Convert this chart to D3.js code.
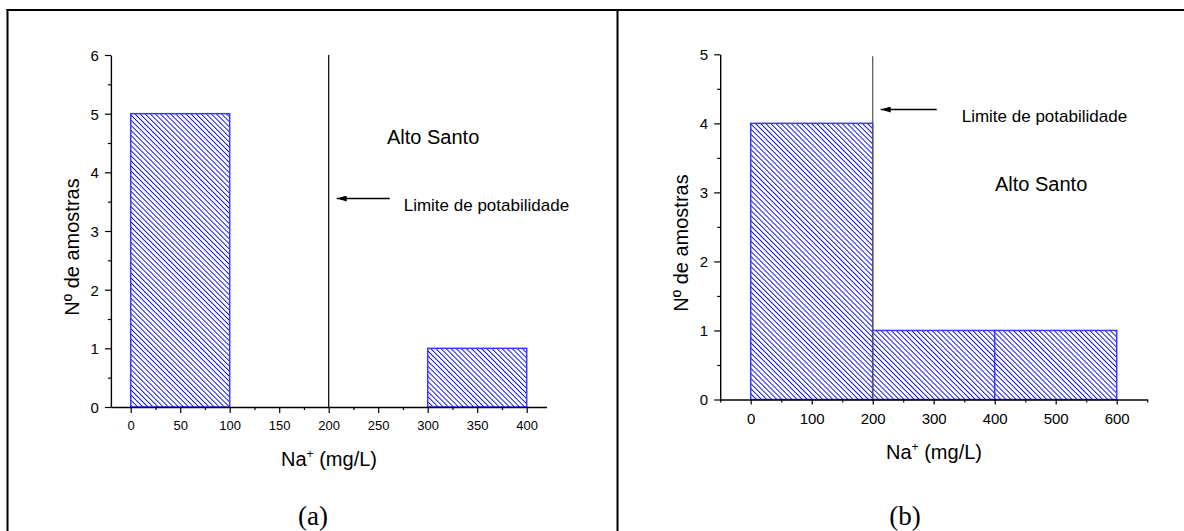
<!DOCTYPE html>
<html>
<head>
<meta charset="utf-8">
<script src="https://cdn.jsdelivr.net/npm/d3@7"></script>
<style>
  html, body { margin: 0; padding: 0; background: #fff; }
  svg { display: block; }
  text { font-family: "Liberation Sans", Arial, sans-serif; fill: #000; }
</style>
</head>
<body>
<svg id="chart" width="1184" height="531"></svg>
<script>
// ---------- data ----------
const binEdgesA = [0, 100, 200, 300, 400];
const countsA = [5, 0, 0, 1];
const xTicksA = [0, 50, 100, 150, 200, 250, 300, 350, 400];
const xMinorA = [25, 75, 125, 175, 225, 275, 325, 375];
const yTicksA = [0, 1, 2, 3, 4, 5, 6];
const yMinorA = [0.5, 1.5, 2.5, 3.5, 4.5, 5.5];

const binEdgesB = [0, 200, 400, 600];
const countsB = [4, 1, 1];
const xTicksB = [0, 100, 200, 300, 400, 500, 600];
const xMinorB = [-50, 50, 150, 250, 350, 450, 550, 650];
const yTicksB = [0, 1, 2, 3, 4, 5];
const yMinorB = [0.5, 1.5, 2.5, 3.5, 4.5];

const limitValue = 200;
const siteName = "Alto Santo";
const limitLabel = "Limite de potabilidade";
const panelLabels = ["(a)", "(b)"];

// ---------- svg ----------
const svg = d3.select("#chart");
const defs = svg.append("defs");
const pat = defs.append("pattern")
  .attr("id", "hatch")
  .attr("patternUnits", "userSpaceOnUse")
  .attr("width", 3.6).attr("height", 3.6)
  .attr("patternTransform", "rotate(-45)");
pat.append("rect").attr("width", 3.6).attr("height", 3.6).attr("fill", "#fff");
pat.append("line").attr("x1", 0.5).attr("y1", 0).attr("x2", 0.5).attr("y2", 3.6)
  .attr("stroke", "#0000ee").attr("stroke-width", 0.9);

defs.append("marker")
  .attr("id", "arrow")
  .attr("viewBox", "0 0 10 6")
  .attr("refX", 0).attr("refY", 3)
  .attr("markerWidth", 10).attr("markerHeight", 6)
  .attr("markerUnits", "userSpaceOnUse")
  .attr("orient", "auto")
  .append("path").attr("d", "M0,3 L10,0 L10,6 Z").attr("fill", "#000");

// frame
svg.append("line").attr("x1", 6.5).attr("x2", 1184).attr("y1", 10).attr("y2", 10)
  .attr("stroke", "#000").attr("stroke-width", 2);
svg.append("line").attr("x1", 7.5).attr("x2", 7.5).attr("y1", 9).attr("y2", 531)
  .attr("stroke", "#000").attr("stroke-width", 2);
svg.append("line").attr("x1", 617.5).attr("x2", 617.5).attr("y1", 9).attr("y2", 531)
  .attr("stroke", "#000").attr("stroke-width", 2);

const fmt = d3.format("d");

function panel(cfg) {
  const x = d3.scaleLinear().domain(cfg.xDomain).range(cfg.xRange);
  const y = d3.scaleLinear().domain(cfg.yDomain).range(cfg.yRange);
  const g = svg.append("g");

  // bars
  const bars = cfg.counts.map((c, i) => ({ x0: cfg.edges[i], x1: cfg.edges[i + 1], c }))
    .filter(d => d.c > 0);
  g.selectAll("rect.bar").data(bars).enter().append("rect")
    .attr("class", "bar")
    .attr("x", d => x(d.x0))
    .attr("y", d => y(d.c))
    .attr("width", d => x(d.x1) - x(d.x0))
    .attr("height", d => y(0) - y(d.c))
    .attr("fill", "url(#hatch)")
    .attr("stroke", "#3a3aff")
    .attr("stroke-width", 1.5);

  // limit line
  g.append("line")
    .attr("x1", x(limitValue)).attr("x2", x(limitValue))
    .attr("y1", y(0)).attr("y2", y(cfg.yDomain[1]) + cfg.limitTopPad)
    .attr("stroke", cfg.limitColor).attr("stroke-width", 1.2);

  // x axis
  const xAxis = g.append("g").attr("transform", `translate(0,${y(0)})`)
    .call(d3.axisBottom(x).tickValues(cfg.xTicks).tickFormat(fmt).tickSize(cfg.majorX).tickSizeOuter(0));
  xAxis.select(".domain").attr("stroke-width", 1.4);
  xAxis.selectAll(".tick line").attr("stroke-width", 1.2);
  xAxis.selectAll("text").attr("y", cfg.xLabelOffset).attr("dy", null)
    .attr("font-size", cfg.xTickFont).attr("font-family", "Liberation Sans, Arial, sans-serif")
    .style("font-size", cfg.xTickFont + "px");
  g.append("g").attr("transform", `translate(0,${y(0)})`)
    .call(d3.axisBottom(x).tickValues(cfg.xMinor).tickSize(3).tickFormat(""))
    .call(s => s.select(".domain").remove())
    .selectAll("line").attr("stroke-width", 1.2);

  // y axis
  const yAxis = g.append("g").attr("transform", `translate(${x(cfg.xDomain[0])},0)`)
    .call(d3.axisLeft(y).tickValues(cfg.yTicks).tickFormat(fmt).tickSize(6).tickSizeOuter(0));
  yAxis.select(".domain").attr("stroke-width", 1.4);
  yAxis.selectAll(".tick line").attr("stroke-width", 1.2);
  yAxis.selectAll("text").attr("x", -12).attr("dy", "0.36em")
    .attr("font-size", cfg.yTickFont).attr("font-family", "Liberation Sans, Arial, sans-serif")
    .style("font-size", cfg.yTickFont + "px");
  g.append("g").attr("transform", `translate(${x(cfg.xDomain[0])},0)`)
    .call(d3.axisLeft(y).tickValues(cfg.yMinor).tickSize(3).tickFormat(""))
    .call(s => s.select(".domain").remove())
    .selectAll("line").attr("stroke-width", 1.2);

  // axis titles
  const xt = g.append("text")
    .attr("x", cfg.xTitleX).attr("y", cfg.xTitleY)
    .attr("text-anchor", "middle").style("font-size", "20px");
  xt.append("tspan").text("Na");
  xt.append("tspan").attr("dy", -8).style("font-size", "12px").text("+");
  xt.append("tspan").attr("dy", 8).text(" (mg/L)");

  g.append("text")
    .attr("transform", `translate(${cfg.yTitleX},${cfg.yTitleY}) rotate(-90)`)
    .attr("text-anchor", "middle").style("font-size", "20px")
    .text("Nº de amostras");

  // annotations
  const ay = cfg.arrowY;
  g.append("line")
    .attr("x1", x(limitValue) + 8).attr("x2", x(limitValue) + cfg.arrowLen)
    .attr("y1", ay).attr("y2", ay)
    .attr("stroke", "#000").attr("stroke-width", 1.3)
    .attr("marker-start", "url(#arrow)");
  g.append("text")
    .attr("x", x(limitValue) + cfg.labelDx).attr("y", ay + 12)
    .style("font-size", "17px").text(limitLabel);
  g.append("text")
    .attr("x", cfg.siteX).attr("y", cfg.siteY)
    .style("font-size", "20px").text(siteName);

  svg.append("text")
    .attr("x", cfg.panelX).attr("y", 525)
    .attr("text-anchor", "middle")
    .style("font-family", "Liberation Serif, 'Times New Roman', serif")
    .style("font-size", "27px")
    .text(cfg.panelLabel);
}

panel({
  edges: binEdgesA, counts: countsA,
  xDomain: [-20, 420], xRange: [110.9, 546.5],
  yDomain: [0, 6], yRange: [407, 55],
  xTicks: xTicksA, xMinor: xMinorA, yTicks: yTicksA, yMinor: yMinorA,
  majorX: 6, xLabelOffset: 23, xTickFont: 13, yTickFont: 15,
  limitColor: "#000", limitTopPad: 0,
  xTitleX: 329, xTitleY: 466, yTitleX: 79, yTitleY: 247,
  arrowY: 198.5, arrowLen: 61, labelDx: 75,
  siteX: 387, siteY: 144,
  panelX: 313, panelLabel: panelLabels[0]
});

panel({
  edges: binEdgesB, counts: countsB,
  xDomain: [-50, 650], xRange: [720.2, 1147.2],
  yDomain: [0, 5], yRange: [399.5, 54.3],
  xTicks: xTicksB, xMinor: xMinorB, yTicks: yTicksB, yMinor: yMinorB,
  majorX: 5, xLabelOffset: 24, xTickFont: 15, yTickFont: 15,
  limitColor: "#555", limitTopPad: 2,
  xTitleX: 934, xTitleY: 459, yTitleX: 688, yTitleY: 243,
  arrowY: 109.5, arrowLen: 64, labelDx: 89,
  siteX: 995, siteY: 191,
  panelX: 905, panelLabel: panelLabels[1]
});
</script>
</body>
</html>
